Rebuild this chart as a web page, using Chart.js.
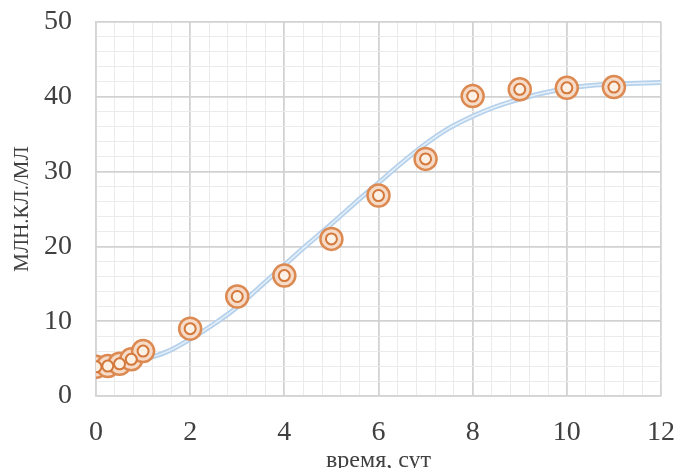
<!DOCTYPE html>
<html>
<head>
<meta charset="utf-8">
<script src="https://cdn.jsdelivr.net/npm/chart.js@4"></script>
<style>
html,body{margin:0;padding:0;background:#fff;}
#wrap{width:683px;height:468px;}
</style>
</head>
<body>
<div id="wrap"><canvas id="c" width="683" height="468"></canvas></div>
<script>
// Measured points
const timeDays = [0, 0.25, 0.5, 0.75, 1, 2, 3, 4, 5, 6, 7, 8, 9, 10, 11];
const cellsMln = [3.9, 4.0, 4.3, 4.9, 6.0, 9.0, 13.3, 16.1, 21.0, 26.8, 31.7, 40.1, 41.0, 41.2, 41.3];
// Fitted curve
const curveX = [0.5, 1, 1.5, 2, 2.5, 3, 3.5, 4, 4.5, 5, 5.5, 6, 6.5, 7, 7.5, 8, 8.5, 9, 9.5, 10, 10.5, 11, 11.5, 12];
const curveY = [4.3, 4.9, 5.9, 7.6, 9.6, 11.9, 14.7, 17.5, 20.3, 23.0, 25.8, 28.5, 31.2, 33.7, 35.8, 37.4, 38.7, 39.7, 40.5, 41.1, 41.5, 41.7, 41.8, 41.9];
// Axis labels
const xTickLabels = ['0', '2', '4', '6', '8', '10', '12'];
const yTickLabels = ['0', '10', '20', '30', '40', '50'];
const xTitle = 'время, сут';
const yTitle = 'МЛН.КЛ./МЛ';

const pts = timeDays.map((x, i) => ({x: x, y: cellsMln[i]}));
const curve = curveX.map((x, i) => ({x: x, y: curveY[i]}));

const near = (v, s) => Math.abs(v / s - Math.round(v / s)) < 1e-6;
const serif = "'Liberation Serif', 'Times New Roman', serif";

new Chart(document.getElementById('c'), {
  type: 'scatter',
  data: {
    datasets: [
      {data: pts, pointRadius: 5.5, pointBorderWidth: 2, pointBorderColor: '#d3783a', pointBackgroundColor: '#fcf1e4', showLine: false, order: 0},
      {data: pts, pointRadius: 11, pointBorderWidth: 2.5, pointBorderColor: '#dc8a52', pointBackgroundColor: '#f6dcc8', showLine: false, order: 1},
      {data: curve, showLine: true, pointRadius: 0, borderWidth: 1.5, borderColor: '#e6f0fa', cubicInterpolationMode: 'monotone', order: 2},
      {data: curve, showLine: true, pointRadius: 0, borderWidth: 5, borderColor: '#b6d1eb', cubicInterpolationMode: 'monotone', order: 3}
    ]
  },
  options: {
    responsive: false,
    animation: false,
    events: [],
    layout: {padding: {left: 0, right: 22, top: 22, bottom: 0}},
    plugins: {legend: {display: false}, tooltip: {enabled: false}},
    scales: {
      x: {
        type: 'linear', min: 0, max: 12,
        afterFit: s => { s.height = 72; s.paddingLeft = 0; s.paddingRight = 0; },
        border: {display: true, color: '#d4d4d4', width: 1.5},
        grid: {
          drawTicks: false,
          color: c => near(c.tick.value, 2) ? '#d2d2d2' : '#ebebeb',
          lineWidth: c => near(c.tick.value, 2) ? 1.8 : 1
        },
        ticks: {
          stepSize: 0.4, autoSkip: false, maxRotation: 0, padding: 20,
          color: '#404040', font: {family: serif, size: 28},
          callback: v => near(v, 2) ? xTickLabels[Math.round(v / 2)] : ''
        },
        title: {display: true, text: xTitle, color: '#404040', font: {family: serif, size: 24}, padding: {top: 0, bottom: -7}}
      },
      y: {
        type: 'linear', min: 0, max: 50,
        afterFit: s => { s.width = 96; s.paddingTop = 0; s.paddingBottom = 0; },
        border: {display: true, color: '#d4d4d4', width: 1.5},
        grid: {
          drawTicks: false,
          color: c => near(c.tick.value, 10) ? '#d2d2d2' : '#ebebeb',
          lineWidth: c => near(c.tick.value, 10) ? 1.8 : 1
        },
        ticks: {
          stepSize: 2, autoSkip: false, padding: 24,
          color: '#404040', font: {family: serif, size: 28},
          callback: v => near(v, 10) ? yTickLabels[Math.round(v / 10)] : ''
        },
        title: {display: true, text: yTitle, color: '#404040', font: {family: serif, size: 21}, padding: {top: 10, bottom: 0}}
      }
    }
  }
});
</script>
</body>
</html>
